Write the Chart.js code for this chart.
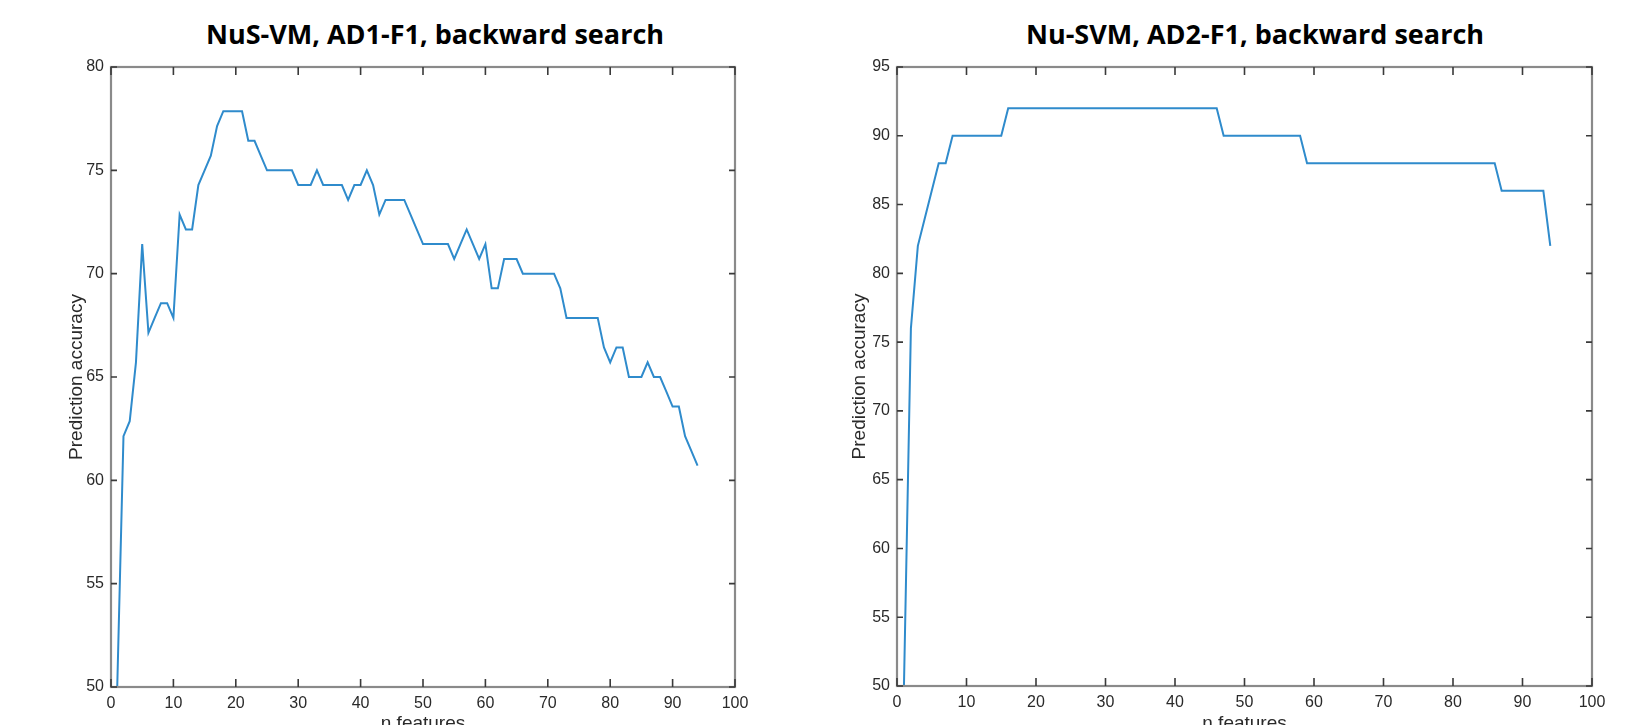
<!DOCTYPE html>
<html>
<head>
<meta charset="utf-8">
<script src="https://cdn.jsdelivr.net/npm/chart.js@4.4.0/dist/chart.umd.min.js"></script>
<style>
  body { margin: 0; background: #fff; width: 1632px; height: 725px; overflow: hidden; position: relative; }
  .box { position: absolute; top: 0; width: 816px; height: 750px; }
  .title { position: absolute; top: 18px; font: bold 27px "Open Sans", sans-serif; line-height: 31px; color: #000; white-space: nowrap; transform: translateX(-50%); }
</style>
</head>
<body>
<div class="title" style="left:435px">NuS-VM, AD1-F1, backward search</div>
<div class="title" style="left:1255px">Nu-SVM, AD2-F1, backward search</div>
<div class="box" style="left:0"><canvas id="chartAD1"></canvas></div>
<div class="box" style="left:816px"><canvas id="chartAD2"></canvas></div>
<script>
// prediction accuracy per number of features (n = 1..94)
const accAD1 = [
  50, 62.14, 62.86, 65.71, 71.43, 67.14, 67.86, 68.57, 68.57, 67.86,
  72.86, 72.14, 72.14, 74.29, 75, 75.71, 77.14, 77.86, 77.86, 77.86,
  77.86, 76.43, 76.43, 75.71, 75, 75, 75, 75, 75, 74.29,
  74.29, 74.29, 75, 74.29, 74.29, 74.29, 74.29, 73.57, 74.29, 74.29,
  75, 74.29, 72.86, 73.57, 73.57, 73.57, 73.57, 72.86, 72.14, 71.43,
  71.43, 71.43, 71.43, 71.43, 70.71, 71.43, 72.14, 71.43, 70.71, 71.43,
  69.29, 69.29, 70.71, 70.71, 70.71, 70, 70, 70, 70, 70,
  70, 69.29, 67.86, 67.86, 67.86, 67.86, 67.86, 67.86, 66.43, 65.71,
  66.43, 66.43, 65, 65, 65, 65.71, 65, 65, 64.29, 63.57,
  63.57, 62.14, 61.43, 60.71
];
const accAD2 = [
  50, 76, 82, 84, 86, 88, 88, 90, 90, 90,
  90, 90, 90, 90, 90, 92, 92, 92, 92, 92,
  92, 92, 92, 92, 92, 92, 92, 92, 92, 92,
  92, 92, 92, 92, 92, 92, 92, 92, 92, 92,
  92, 92, 92, 92, 92, 92, 90, 90, 90, 90,
  90, 90, 90, 90, 90, 90, 90, 90, 88, 88,
  88, 88, 88, 88, 88, 88, 88, 88, 88, 88,
  88, 88, 88, 88, 88, 88, 88, 88, 88, 88,
  88, 88, 88, 88, 88, 88, 86, 86, 86, 86,
  86, 86, 86, 82
];
const xTicks = [0, 100, 10];        // min, max, step
const yTicksAD1 = [50, 80, 5];
const yTicksAD2 = [50, 95, 5];

const tickFont = { family: '"Liberation Sans Narrow", "Liberation Sans", Arial, sans-serif', size: 16 };
const labelFont = { family: '"Liberation Sans", Arial, sans-serif', size: 19 };

// matlab-like box with inward ticks on all four sides
const framePlugin = {
  id: 'frame',
  afterDatasetsDraw(chart) {
    const { ctx, chartArea: a, scales: { x, y } } = chart;
    ctx.save();
    ctx.strokeStyle = '#8a8a8a';
    ctx.lineWidth = 2.2;
    ctx.strokeRect(a.left, a.top, a.right - a.left, a.bottom - a.top);
    ctx.strokeStyle = '#3a3a3a';
    ctx.lineWidth = 1.6;
    ctx.beginPath();
    x.ticks.forEach(t => {
      const px = x.getPixelForValue(t.value);
      ctx.moveTo(px, a.bottom); ctx.lineTo(px, a.bottom - 8);
      ctx.moveTo(px, a.top); ctx.lineTo(px, a.top + 8);
    });
    y.ticks.forEach(t => {
      const py = y.getPixelForValue(t.value);
      ctx.moveTo(a.left, py); ctx.lineTo(a.left + 6, py);
      ctx.moveTo(a.right, py); ctx.lineTo(a.right - 6, py);
    });
    ctx.stroke();
    ctx.restore();
  }
};

function makeChart(id, acc, yTicks, yAxisWidth, xAxisHeight, rightPad, yTitlePad) {
  const points = acc.map((v, i) => ({ x: i + 1, y: v }));
  return new Chart(document.getElementById(id), {
    type: 'line',
    data: {
      datasets: [{
        data: points,
        borderColor: '#2f8bcc',
        borderWidth: 2,
        pointRadius: 0,
        fill: false,
        tension: 0
      }]
    },
    options: {
      responsive: true,
      maintainAspectRatio: false,
      animation: false,
      layout: { padding: { top: 67, right: rightPad, left: 0, bottom: 0 } },
      plugins: { legend: { display: false }, tooltip: { enabled: false } },
      scales: {
        x: {
          type: 'linear',
          min: xTicks[0], max: xTicks[1],
          ticks: { stepSize: xTicks[2], font: tickFont, color: '#2a2a2a', padding: 7, maxRotation: 0 },
          grid: { display: false, drawTicks: false },
          border: { display: false },
          title: { display: true, text: 'n features', font: labelFont, color: '#2a2a2a', padding: { top: 0, bottom: 15 } },
          afterFit: s => { s.height = xAxisHeight; }
        },
        y: {
          min: yTicks[0], max: yTicks[1],
          ticks: { stepSize: yTicks[2], font: tickFont, color: '#2a2a2a', padding: 7 },
          grid: { display: false, drawTicks: false },
          border: { display: false },
          title: { display: true, text: 'Prediction accuracy', font: labelFont, color: '#2a2a2a', padding: { top: yTitlePad, bottom: 0 } },
          afterFit: s => { s.width = yAxisWidth; }
        }
      }
    },
    plugins: [framePlugin]
  });
}

makeChart('chartAD1', accAD1, yTicksAD1, 111, 63, 81, 65);
makeChart('chartAD2', accAD2, yTicksAD2, 81, 64, 40, 32);
</script>
</body>
</html>
